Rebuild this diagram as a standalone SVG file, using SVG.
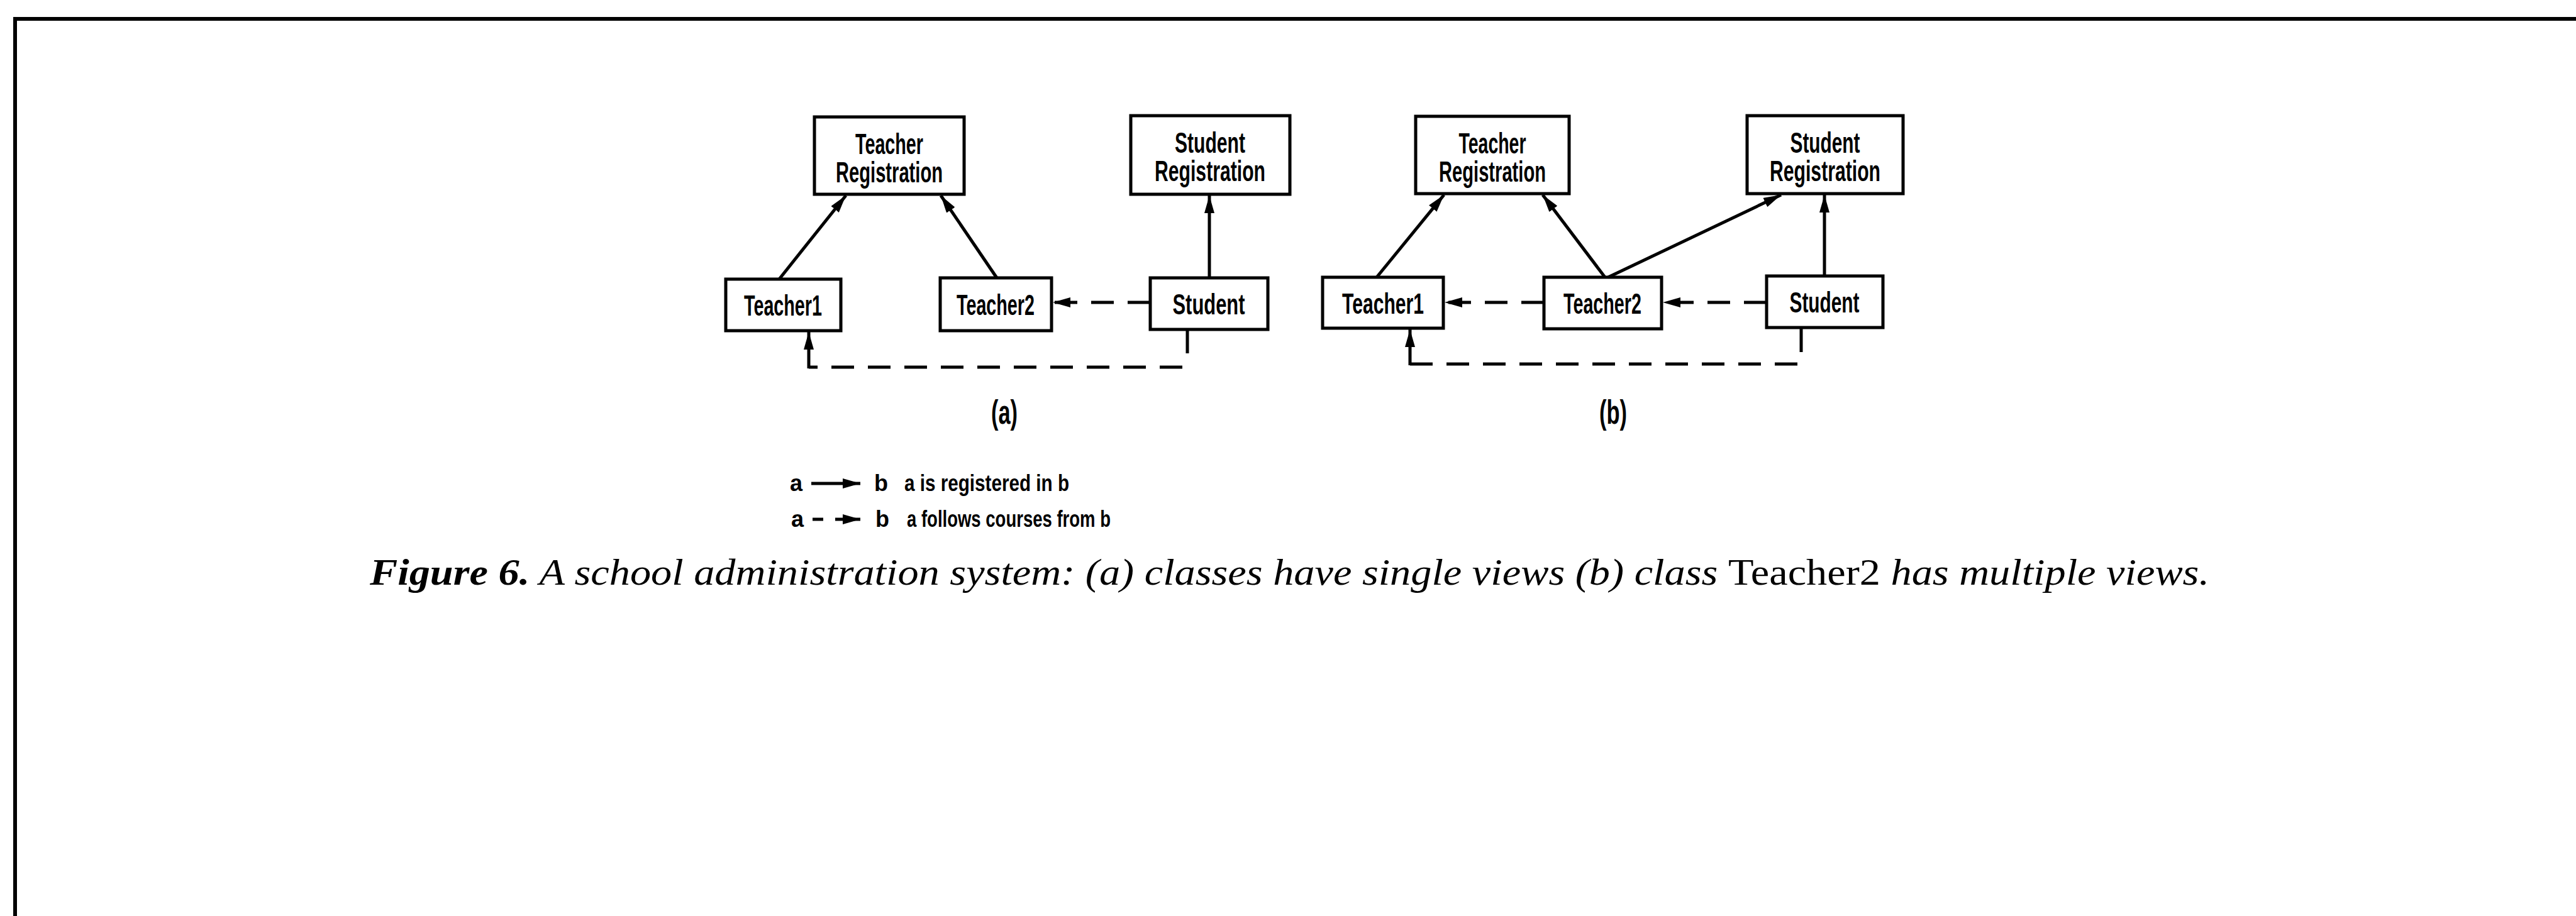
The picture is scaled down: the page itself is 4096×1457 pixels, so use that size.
<svg xmlns="http://www.w3.org/2000/svg" width="4096" height="1457" viewBox="0 0 4096 1457">
  <style>
    .box { fill: #fff; stroke: #000; stroke-width: 5; }
    .lbl { font-family: "Liberation Sans Narrow", "Liberation Sans", Arial, sans-serif; font-weight: bold; font-size: 46px; fill: #000; text-anchor: middle; }
    .sub { font-family: "Liberation Sans Narrow", "Liberation Sans", Arial, sans-serif; font-weight: bold; font-size: 54px; fill: #000; text-anchor: middle; }
    .leg { font-family: "Liberation Sans Narrow", "Liberation Sans", Arial, sans-serif; font-weight: bold; font-size: 36px; fill: #000; }
    .solid { fill: none; stroke: #000; stroke-width: 5; }
    .dash { fill: none; stroke: #000; stroke-width: 5; stroke-dasharray: 36 22; }
    .frame { fill: none; stroke: #000; stroke-width: 6; }
    .cap { font-family: "Liberation Serif", "Times New Roman", serif; font-size: 60px; fill: #000; }
  </style>
  <defs>
    <marker id="head" markerUnits="userSpaceOnUse" markerWidth="28" markerHeight="16" refX="28" refY="8" orient="auto">
      <path d="M0,0 L28,8 L0,16 Z" fill="#000"/>
    </marker>
  </defs>

  <rect width="4096" height="1457" fill="#fff"/>
  <path class="frame" d="M24,1457 L24,30 L4096,30"/>

  <!-- diagram (a) -->
  <g id="a-teacher-registration">
    <rect class="box" x="1295" y="186" width="238" height="123"/>
    <text class="lbl" x="1414" y="245" textLength="108" lengthAdjust="spacingAndGlyphs">Teacher</text>
    <text class="lbl" x="1414" y="290" textLength="170" lengthAdjust="spacingAndGlyphs">Registration</text>
  </g>
  <g id="a-student-registration">
    <rect class="box" x="1798" y="184" width="253" height="125"/>
    <text class="lbl" x="1924" y="243" textLength="112" lengthAdjust="spacingAndGlyphs">Student</text>
    <text class="lbl" x="1924" y="288" textLength="176" lengthAdjust="spacingAndGlyphs">Registration</text>
  </g>
  <g id="a-teacher1">
    <rect class="box" x="1154" y="444" width="183" height="82"/>
    <text class="lbl" x="1245" y="502" textLength="124" lengthAdjust="spacingAndGlyphs">Teacher1</text>
  </g>
  <g id="a-teacher2">
    <rect class="box" x="1495" y="442" width="177" height="84"/>
    <text class="lbl" x="1583" y="501" textLength="124" lengthAdjust="spacingAndGlyphs">Teacher2</text>
  </g>
  <g id="a-student">
    <rect class="box" x="1829" y="442" width="187" height="82"/>
    <text class="lbl" x="1922" y="500" textLength="115" lengthAdjust="spacingAndGlyphs">Student</text>
  </g>
  <text class="sub" x="1597" y="674" textLength="42" lengthAdjust="spacingAndGlyphs">(a)</text>

  <!-- diagram (b) -->
  <g id="b-teacher-registration">
    <rect class="box" x="2251" y="185" width="244" height="123"/>
    <text class="lbl" x="2373" y="244" textLength="107" lengthAdjust="spacingAndGlyphs">Teacher</text>
    <text class="lbl" x="2373" y="289" textLength="170" lengthAdjust="spacingAndGlyphs">Registration</text>
  </g>
  <g id="b-student-registration">
    <rect class="box" x="2778" y="184" width="248" height="124"/>
    <text class="lbl" x="2902" y="243" textLength="111" lengthAdjust="spacingAndGlyphs">Student</text>
    <text class="lbl" x="2902" y="288" textLength="176" lengthAdjust="spacingAndGlyphs">Registration</text>
  </g>
  <g id="b-teacher1">
    <rect class="box" x="2103" y="441" width="192" height="81"/>
    <text class="lbl" x="2199" y="499" textLength="130" lengthAdjust="spacingAndGlyphs">Teacher1</text>
  </g>
  <g id="b-teacher2">
    <rect class="box" x="2455" y="441" width="187" height="82"/>
    <text class="lbl" x="2548" y="499" textLength="124" lengthAdjust="spacingAndGlyphs">Teacher2</text>
  </g>
  <g id="b-student">
    <rect class="box" x="2809" y="439" width="185" height="82"/>
    <text class="lbl" x="2901" y="497" textLength="111" lengthAdjust="spacingAndGlyphs">Student</text>
  </g>
  <text class="sub" x="2565" y="674" textLength="44" lengthAdjust="spacingAndGlyphs">(b)</text>

  <!-- connectors -->
  <g id="connectors">
    <!-- (a) registration links -->
    <path class="solid" d="M1239,444 L1345,311" marker-end="url(#head)"/>
    <path class="solid" d="M1585,442 L1496,311" marker-end="url(#head)"/>
    <path class="solid" d="M1923,442 L1923,311" marker-end="url(#head)"/>
    <!-- (a) course links -->
    <path class="dash" d="M1829,481 L1674,481" marker-end="url(#head)"/>
    <path class="solid" d="M1888,526 L1888,562"/>
    <path class="dash" d="M1880,584 L1286,584"/>
    <path class="solid" d="M1286,586 L1286,528" marker-end="url(#head)"/>

    <!-- (b) registration links -->
    <path class="solid" d="M2189,441 L2296,310" marker-end="url(#head)"/>
    <path class="solid" d="M2552,441 L2453,310" marker-end="url(#head)"/>
    <path class="solid" d="M2557,441 L2832,310" marker-end="url(#head)"/>
    <path class="solid" d="M2901,439 L2901,310" marker-end="url(#head)"/>
    <!-- (b) course links -->
    <path class="dash" d="M2455,481 L2297,481" marker-end="url(#head)"/>
    <path class="dash" d="M2809,481 L2644,481" marker-end="url(#head)"/>
    <path class="solid" d="M2864,523 L2864,560"/>
    <path class="dash" d="M2858,579 L2242,579"/>
    <path class="solid" d="M2242,581 L2242,524" marker-end="url(#head)"/>
  </g>

  <!-- legend -->
  <g id="legend">
    <text class="leg" x="1256" y="781">a</text>
    <path class="solid" d="M1290,769 L1368,769" marker-end="url(#head)"/>
    <text class="leg" x="1390" y="781">b</text>
    <text class="leg" x="1438" y="781" textLength="262" lengthAdjust="spacingAndGlyphs">a is registered in b</text>

    <text class="leg" x="1258" y="838">a</text>
    <path class="solid" d="M1292,826 L1309,826"/>
    <path class="solid" d="M1328,826 L1368,826" marker-end="url(#head)"/>
    <text class="leg" x="1392" y="838">b</text>
    <text class="leg" x="1442" y="838" textLength="324" lengthAdjust="spacingAndGlyphs">a follows courses from b</text>
  </g>

  <!-- caption -->
  <text class="cap" x="588" y="930" textLength="2925" lengthAdjust="spacingAndGlyphs"><tspan font-weight="bold" font-style="italic">Figure 6.</tspan><tspan font-style="italic"> A school administration system: (a) classes have single views (b) class </tspan><tspan>Teacher2</tspan><tspan font-style="italic"> has multiple views.</tspan></text>
</svg>
